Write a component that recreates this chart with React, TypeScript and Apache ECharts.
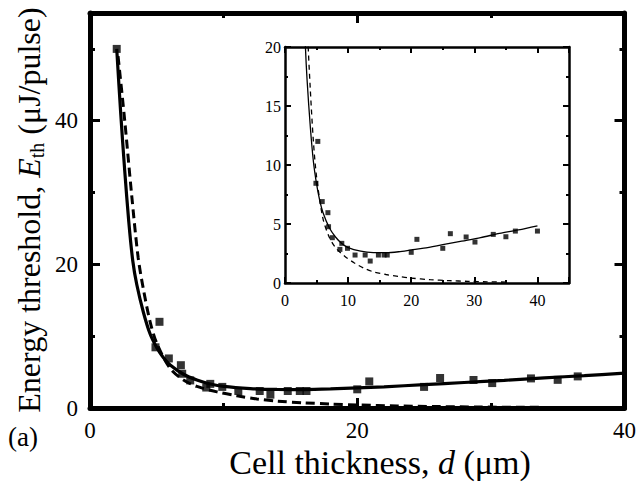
import React, { useEffect, useRef } from 'react';
import * as echarts from 'echarts';

// Measured data points (cell thickness d in µm, energy threshold in µJ/pulse)
const pointD = [2, 4.9, 5.2, 5.9, 6.8, 6.9, 7.5, 8.7, 9.0, 9.9, 11.1, 12.7, 13.5, 14.8, 15.7, 16.2, 20.0, 20.9, 25.0, 26.2, 28.7, 30.1, 33.0, 35.0, 36.5, 40.0];
const pointE = [50, 8.45, 12.0, 6.9, 5.96, 4.77, 3.84, 2.85, 3.36, 2.94, 2.37, 2.37, 1.86, 2.37, 2.37, 2.37, 2.6, 3.7, 2.94, 4.18, 3.9, 3.47, 4.12, 3.92, 4.4, 4.4];

// Solid fitted curve
const solidD = [2, 2.3, 2.6, 2.9, 3.2, 3.5, 4, 4.5, 5, 5.5, 6, 7, 8, 9, 10, 12, 14, 16, 18, 20, 22, 25, 28, 31, 34, 37, 40];
const solidE = [50, 41, 33, 26, 20.5, 17.2, 13.3, 10.3, 8.4, 7.0, 6.0, 4.7, 3.9, 3.35, 3.0, 2.7, 2.58, 2.57, 2.65, 2.8, 2.95, 3.25, 3.55, 3.85, 4.2, 4.5, 4.85];

// Dashed curve
const dashD = [2.1, 2.6, 3.1, 3.6, 4, 4.5, 5, 6, 7, 8, 9.5, 11, 12.5, 14, 16, 18, 20, 23, 26, 29, 32, 35];
const dashE = [49, 40, 30, 21, 16.5, 12, 9, 5.5, 3.9, 3.0, 2.25, 1.7, 1.25, 0.95, 0.72, 0.55, 0.42, 0.28, 0.2, 0.14, 0.1, 0.08];

const mainYLabels = [0, 20, 40];
const insetXLabels = [0, 10, 20, 30, 40];

const FONT = "Liberation Serif";
const BLACK = '#000';

function zip(a: number[], b: number[]) {
  return a.map((v, i) => [v, b[i]]);
}

function valueAxis(o: any) {
  const {
    grid, position, min, max, interval, lineW, tickLen, tickW, labels, fontSize, margin, formatter, minor, showLine,
  } = o;
  const axisLabel: any = labels
    ? { show: true, color: BLACK, fontFamily: FONT, fontSize, margin }
    : { show: false };
  if (labels && formatter) axisLabel.formatter = formatter;
  return {
    type: 'value',
    gridIndex: grid,
    position,
    min,
    max,
    interval,
    splitLine: { show: false },
    axisLine: { show: showLine !== false, onZero: false, lineStyle: { color: BLACK, width: lineW } },
    axisTick: { show: true, inside: true, length: tickLen, lineStyle: { color: BLACK, width: tickW } },
    minorTick: minor
      ? { show: true, splitNumber: minor.split, length: minor.len, lineStyle: { color: BLACK, width: minor.w } }
      : { show: false },
    axisLabel,
  };
}

export default function App() {
  const ref = useRef<HTMLDivElement>(null);
  useEffect(() => {
    const chart = echarts.init(ref.current!, null, { renderer: 'svg' });
    const pts = zip(pointD, pointE);
    const solid = zip(solidD, solidE);
    const dash = zip(dashD, dashE);
    const mainPts = pts.filter((p) => p[0] < 40);
    const insetPts = pts.filter((p) => p[1] <= 20);

    const option: any = {
      animation: false,
      backgroundColor: '#fff',
      textStyle: { fontFamily: FONT },
      grid: [
        { left: 90, top: 13, width: 535, height: 395, containLabel: false },
        { left: 285, top: 47, width: 284, height: 236, show: true, backgroundColor: '#fff', borderWidth: 0, containLabel: false },
      ],
      xAxis: [
        valueAxis({ grid: 0, position: 'bottom', min: 0, max: 40, interval: 20, lineW: 5, tickLen: 10, tickW: 3, labels: true, fontSize: 23, margin: 11, minor: { split: 2, len: 5, w: 3 } }),
        valueAxis({ grid: 0, position: 'top', min: 0, max: 40, interval: 20, lineW: 5, tickLen: 10, tickW: 3, labels: false, minor: { split: 2, len: 5, w: 3 } }),
        valueAxis({ grid: 1, position: 'bottom', min: 0, max: 45, interval: 10, lineW: 2.5, tickLen: 6, tickW: 2, labels: true, fontSize: 16, margin: 9, formatter: (v: number) => (insetXLabels.includes(v) ? String(v) : '') }),
        valueAxis({ grid: 1, position: 'bottom', min: 0, max: 45, interval: 5, lineW: 0, showLine: false, tickLen: 3, tickW: 2, labels: false }),
        valueAxis({ grid: 1, position: 'top', min: 0, max: 45, interval: 10, lineW: 2.5, tickLen: 6, tickW: 2, labels: false }),
        valueAxis({ grid: 1, position: 'top', min: 0, max: 45, interval: 5, lineW: 0, showLine: false, tickLen: 3, tickW: 2, labels: false }),
      ],
      yAxis: [
        valueAxis({ grid: 0, position: 'left', min: 0, max: 55, interval: 20, lineW: 5, tickLen: 10, tickW: 3, labels: true, fontSize: 23, margin: 12, formatter: (v: number) => (mainYLabels.includes(v) ? String(v) : '') }),
        valueAxis({ grid: 0, position: 'left', min: 0, max: 55, interval: 10, lineW: 0, showLine: false, tickLen: 5, tickW: 3, labels: false }),
        valueAxis({ grid: 0, position: 'right', min: 0, max: 55, interval: 20, lineW: 5, tickLen: 10, tickW: 3, labels: false }),
        valueAxis({ grid: 0, position: 'right', min: 0, max: 55, interval: 10, lineW: 0, showLine: false, tickLen: 5, tickW: 3, labels: false }),
        valueAxis({ grid: 1, position: 'left', min: 0, max: 20, interval: 5, lineW: 2.5, tickLen: 6, tickW: 2, labels: true, fontSize: 16, margin: 4, minor: { split: 2, len: 3, w: 2 } }),
        valueAxis({ grid: 1, position: 'right', min: 0, max: 20, interval: 5, lineW: 2.5, tickLen: 6, tickW: 2, labels: false, minor: { split: 2, len: 3, w: 2 } }),
      ],
      series: [
        {
          type: 'line', xAxisIndex: 0, yAxisIndex: 0, data: solid, showSymbol: false, smooth: 0.3,
          lineStyle: { color: BLACK, width: 3.2 }, z: 3,
        },
        {
          type: 'line', xAxisIndex: 0, yAxisIndex: 0, data: dash, showSymbol: false, smooth: 0.3,
          lineStyle: { color: BLACK, width: 3, type: [9, 5] }, z: 3,
        },
        {
          type: 'scatter', xAxisIndex: 0, yAxisIndex: 0, data: mainPts, symbol: 'rect', symbolSize: 8,
          itemStyle: { color: BLACK }, z: 4,
        },
        {
          type: 'line', xAxisIndex: 2, yAxisIndex: 4, data: solid, showSymbol: false, smooth: 0.3,
          lineStyle: { color: BLACK, width: 1.3 }, z: 5,
        },
        {
          type: 'line', xAxisIndex: 2, yAxisIndex: 4, data: dash, showSymbol: false, smooth: 0.3,
          lineStyle: { color: BLACK, width: 1.3, type: [5, 4] }, z: 5,
        },
        {
          type: 'scatter', xAxisIndex: 2, yAxisIndex: 4, data: insetPts, symbol: 'rect', symbolSize: 5,
          itemStyle: { color: BLACK }, z: 6,
        },
      ],
      graphic: [
        {
          type: 'text', x: 8, y: 437,
          style: { text: '(a)', fontFamily: FONT, fontSize: 27, fill: BLACK, verticalAlign: 'middle' },
        },
        {
          type: 'text', x: 380, y: 462,
          style: {
            text: '{a|Cell thickness, }{i|d}{a| (μm)}',
            align: 'center', verticalAlign: 'middle',
            rich: {
              a: { fontFamily: FONT, fontSize: 34, fill: BLACK },
              i: { fontFamily: FONT, fontSize: 34, fontStyle: 'italic', fill: BLACK },
            },
          },
        },
        {
          type: 'text', x: 29, y: 210, rotation: Math.PI / 2,
          style: {
            text: '{a|Energy threshold, }{i|E}{s|th}{a| (μJ/pulse)}',
            align: 'center', verticalAlign: 'middle',
            rich: {
              a: { fontFamily: FONT, fontSize: 32, fill: BLACK, lineHeight: 36, verticalAlign: 'middle' },
              i: { fontFamily: FONT, fontSize: 32, fontStyle: 'italic', fill: BLACK, lineHeight: 36, verticalAlign: 'middle' },
              s: { fontFamily: FONT, fontSize: 20, fill: BLACK, lineHeight: 26, verticalAlign: 'bottom' },
            },
          },
        },
      ],
    };
    chart.setOption(option);
    return () => chart.dispose();
  }, []);
  return <div ref={ref} style={{ position: 'fixed', left: 0, top: 0, width: 639, height: 492 }} />;
}
